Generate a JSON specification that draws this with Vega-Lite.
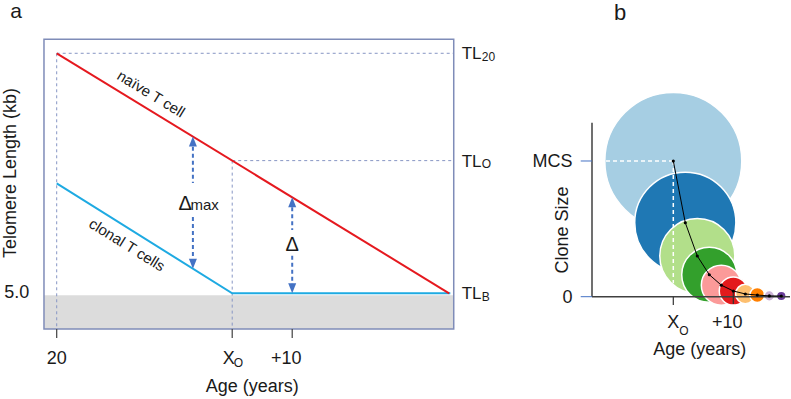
{
  "$schema": "https://vega.github.io/schema/vega-lite/v6.json",
  "width": 791,
  "height": 399,
  "autosize": {"type": "fit", "contains": "padding"},
  "padding": 0,
  "background": "white",
  "config": {"view": {"stroke": null}, "font": "Liberation Sans", "text": {"font": "Liberation Sans", "color": "#1a1a1a"}},
  "datasets": {
    "naive": [{"x": 20, "y": 10}, {"x": 85.4, "y": 5}],
    "clonal": [{"x": 20, "y": 7.29}, {"x": 49.25, "y": 5}, {"x": 85.6, "y": 5}],
    "band": [{"x": 17.88, "x2": 86.17, "y": 4.256, "y2": 4.96}],
    "frame": [{"x": 17.88, "x2": 86.17, "y": 4.256, "y2": 10.29}],
    "vguides": [{"x": 20, "y": 10, "y2": 4.256}, {"x": 49.25, "y": 7.764, "y2": 4.256}],
    "hguides": [{"x": 20, "x2": 86.17, "y": 10}, {"x": 49.25, "x2": 86.17, "y": 7.764}],
    "ageTicks": [{"x": 20, "y": 4.256, "y2": 4.069}, {"x": 49.25, "y": 4.256, "y2": 4.069}, {"x": 59.25, "y": 4.256, "y2": 4.069}],
    "shafts": [{"x": 42.7, "y": 8.2, "y2": 7.3}, {"x": 42.7, "y": 6.59, "y2": 5.58}, {"x": 59.25, "y": 6.94, "y2": 6.32}, {"x": 59.25, "y": 5.78, "y2": 5.06}],
    "headsUp": [{"x": 42.7, "y": 8.264}, {"x": 59.25, "y": 7.0}],
    "headsDown": [{"x": 42.7, "y": 5.513}, {"x": 59.25, "y": 5.0}],
    "aLabels": [{"x": 20, "y": 3.631, "label": "20"}, {"x": 13.33, "y": 5.0, "label": "5.0"}, {"x": 52.58, "y": 3.052, "label": "Age (years)"}],
    "aPlus": [{"x": 59.25, "y": 3.631, "label": "+10"}],
    "aX": [{"x": 49.25, "y": 3.631, "label": "X"}],
    "aXsub": [{"x": 49.25, "y": 3.631, "label": "O"}],
    "aTitle": [{"x": 12.45, "y": 7.506, "label": "Telomere Length (kb)"}],
    "aPanel": [{"x": 13.22, "y": 10.87, "label": "a"}],
    "deltas": [{"x": 41.42, "y": 6.854, "label": "Δ"}, {"x": 59.25, "y": 6.002, "label": "Δ"}],
    "deltaSub": [{"x": 42.3, "y": 6.854, "label": "max"}],
    "naiveLabel": [{"x": 35.72, "y": 9.152, "label": "naïve T cell"}],
    "clonalLabel": [{"x": 31.72, "y": 6.006, "label": "clonal T cells"}],
    "tl": [{"x": 87.5, "y": 10, "label": "TL", "sub": "20"}, {"x": 87.5, "y": 7.764, "label": "TL", "sub": "O"}, {"x": 87.5, "y": 5, "label": "TL", "sub": "B"}],
    "clones": [
      {"x": 0, "y": 1, "clone": 1},
      {"x": 2, "y": 0.545, "clone": 2},
      {"x": 4, "y": 0.3, "clone": 3},
      {"x": 6, "y": 0.162, "clone": 4},
      {"x": 8, "y": 0.085, "clone": 5},
      {"x": 10, "y": 0.042, "clone": 6},
      {"x": 12, "y": 0.02, "clone": 7},
      {"x": 14, "y": 0.012, "clone": 8},
      {"x": 16, "y": 0.006, "clone": 9},
      {"x": 18, "y": 0.005, "clone": 10}
    ],
    "bDashH": [{"x": -13.55, "x2": 0, "y": 1}],
    "bDashV": [{"x": 0, "y": 1, "y2": 0.1}],
    "bAxisY": [{"x": -13.55, "y": 0, "y2": 1.282}],
    "bAxisX": [{"x": -13.55, "x2": 19.45, "y": 0}],
    "bTicksY": [{"x": -15.43, "x2": -13.55, "y": 0}, {"x": -15.43, "x2": -13.55, "y": 1}],
    "bTicksX": [{"x": 0, "y": 0, "y2": -0.061}, {"x": 10, "y": 0.037, "y2": -0.054}],
    "bYLabels": [{"x": -16.8, "y": 1, "label": "MCS"}, {"x": -16.8, "y": 0, "label": "0"}],
    "bTitleY": [{"x": -18.38, "y": 0.492, "label": "Clone Size"}],
    "bX": [{"x": 0, "y": -0.184, "label": "X"}],
    "bXsub": [{"x": 0, "y": -0.184, "label": "O"}],
    "bPlus": [{"x": 10, "y": -0.184, "label": "+10"}],
    "bTitleX": [{"x": 4.42, "y": -0.395, "label": "Age (years)"}],
    "bPanel": [{"x": -8.88, "y": 2.0906, "label": "b"}]
  },
  "layer": [
    {
      "encoding": {
        "x": {"field": "x", "type": "quantitative", "scale": {"domain": [10.55, 142.38], "nice": false, "zero": false}, "axis": null},
        "y": {"field": "y", "type": "quantitative", "scale": {"domain": [2.798, 11.11], "nice": false, "zero": false}, "axis": null}
      },
      "layer": [
        {"data": {"name": "band"}, "mark": {"type": "rect", "color": "#dcdcdc"}, "encoding": {"x2": {"field": "x2"}, "y2": {"field": "y2"}}},
        {"data": {"name": "vguides"}, "mark": {"type": "rule", "color": "#8796c4", "strokeWidth": 1, "strokeDash": [3, 3]}, "encoding": {"y2": {"field": "y2"}}},
        {"data": {"name": "hguides"}, "mark": {"type": "rule", "color": "#8796c4", "strokeWidth": 1, "strokeDash": [3, 3]}, "encoding": {"x2": {"field": "x2"}}},
        {"data": {"name": "frame"}, "mark": {"type": "rect", "filled": false, "stroke": "#7f8cb8", "strokeWidth": 1.5}, "encoding": {"x2": {"field": "x2"}, "y2": {"field": "y2"}}},
        {"data": {"name": "ageTicks"}, "mark": {"type": "rule", "color": "#404040", "strokeWidth": 1.2}, "encoding": {"y2": {"field": "y2"}}},
        {"data": {"name": "clonal"}, "mark": {"type": "line", "color": "#1eaae2", "strokeWidth": 2}, "encoding": {}},
        {"data": {"name": "naive"}, "mark": {"type": "line", "color": "#e5191f", "strokeWidth": 2}, "encoding": {}},
        {"data": {"name": "shafts"}, "mark": {"type": "rule", "color": "#4472c4", "strokeWidth": 2, "strokeDash": [4, 3]}, "encoding": {"y2": {"field": "y2"}}},
        {"data": {"name": "headsUp"}, "mark": {"type": "point", "shape": "M0,0L-0.8,2L0.8,2Z", "size": 100, "filled": true, "color": "#4472c4", "opacity": 1}},
        {"data": {"name": "headsDown"}, "mark": {"type": "point", "shape": "M0,0L-0.8,-2L0.8,-2Z", "size": 100, "filled": true, "color": "#4472c4", "opacity": 1}},
        {"data": {"name": "aLabels"}, "mark": {"type": "text", "fontSize": 18, "align": "center", "baseline": "middle"}, "encoding": {"text": {"field": "label"}}},
        {"data": {"name": "aPlus"}, "mark": {"type": "text", "fontSize": 18, "align": "center", "baseline": "middle", "dx": -6}, "encoding": {"text": {"field": "label"}}},
        {"data": {"name": "aX"}, "mark": {"type": "text", "fontSize": 18, "align": "center", "baseline": "middle", "dx": -3.5}, "encoding": {"text": {"field": "label"}}},
        {"data": {"name": "aXsub"}, "mark": {"type": "text", "fontSize": 12, "align": "left", "baseline": "middle", "dx": 1.6, "dy": 4}, "encoding": {"text": {"field": "label"}}},
        {"data": {"name": "aTitle"}, "mark": {"type": "text", "fontSize": 18, "align": "center", "baseline": "middle", "angle": 270}, "encoding": {"text": {"field": "label"}}},
        {"data": {"name": "aPanel"}, "mark": {"type": "text", "fontSize": 21, "align": "center", "baseline": "middle"}, "encoding": {"text": {"field": "label"}}},
        {"data": {"name": "deltas"}, "mark": {"type": "text", "fontSize": 20, "align": "center", "baseline": "middle"}, "encoding": {"text": {"field": "label"}}},
        {"data": {"name": "deltaSub"}, "mark": {"type": "text", "fontSize": 15, "align": "left", "baseline": "middle", "dy": 1}, "encoding": {"text": {"field": "label"}}},
        {"data": {"name": "naiveLabel"}, "mark": {"type": "text", "fontSize": 15, "align": "center", "baseline": "middle", "angle": 31.4}, "encoding": {"text": {"field": "label"}}},
        {"data": {"name": "clonalLabel"}, "mark": {"type": "text", "fontSize": 15, "align": "center", "baseline": "middle", "angle": 32}, "encoding": {"text": {"field": "label"}}},
        {"data": {"name": "tl"}, "mark": {"type": "text", "fontSize": 17, "align": "left", "baseline": "middle", "dy": 1}, "encoding": {"text": {"field": "label"}}},
        {"data": {"name": "tl"}, "mark": {"type": "text", "fontSize": 12, "align": "left", "baseline": "middle", "dx": 20, "dy": 3.5}, "encoding": {"text": {"field": "sub"}}}
      ]
    },
    {
      "encoding": {
        "x": {"field": "x", "type": "quantitative", "scale": {"domain": [-112.22, 19.617], "nice": false, "zero": false}, "axis": null},
        "y": {"field": "y", "type": "quantitative", "scale": {"domain": [-0.7539, 2.1864], "nice": false, "zero": false}, "axis": null}
      },
      "layer": [
        {"data": {"name": "clones"}, "mark": {"type": "point", "shape": "circle", "filled": true, "opacity": 1, "stroke": "white", "strokeWidth": 1.5},
         "encoding": {
           "size": {"field": "y", "type": "quantitative", "scale": {"type": "linear", "domain": [0, 1], "range": [0, 18769], "zero": true}, "legend": null},
           "color": {"field": "clone", "type": "nominal", "scale": {"domain": [1, 2, 3, 4, 5, 6, 7, 8, 9, 10], "range": ["#a6cee3", "#1f78b4", "#b2df8a", "#33a02c", "#fb9a99", "#e31a1c", "#fdbf6f", "#ff7f00", "#cab2d6", "#6a3d9a"]}, "legend": null}
         }},
        {"data": {"name": "bDashH"}, "mark": {"type": "rule", "color": "white", "strokeWidth": 1.5, "strokeDash": [4, 3]}, "encoding": {"x2": {"field": "x2"}}},
        {"data": {"name": "bDashV"}, "mark": {"type": "rule", "color": "white", "strokeWidth": 1.5, "strokeDash": [4, 3]}, "encoding": {"y2": {"field": "y2"}}},
        {"data": {"name": "bAxisY"}, "mark": {"type": "rule", "color": "#404040", "strokeWidth": 1.5}, "encoding": {"y2": {"field": "y2"}}},
        {"data": {"name": "bAxisX"}, "mark": {"type": "rule", "color": "#404040", "strokeWidth": 1.5}, "encoding": {"x2": {"field": "x2"}}},
        {"data": {"name": "bTicksY"}, "mark": {"type": "rule", "color": "#4472c4", "strokeWidth": 1}, "encoding": {"x2": {"field": "x2"}}},
        {"data": {"name": "bTicksX"}, "mark": {"type": "rule", "color": "#333333", "strokeWidth": 1.2}, "encoding": {"y2": {"field": "y2"}}},
        {"data": {"name": "clones"}, "mark": {"type": "line", "color": "black", "strokeWidth": 1}, "encoding": {}},
        {"data": {"name": "clones"}, "mark": {"type": "point", "shape": "circle", "filled": true, "color": "black", "size": 10, "opacity": 1}},
        {"data": {"name": "bYLabels"}, "mark": {"type": "text", "fontSize": 18, "align": "right", "baseline": "middle", "dy": 1}, "encoding": {"text": {"field": "label"}}},
        {"data": {"name": "bTitleY"}, "mark": {"type": "text", "fontSize": 18, "align": "center", "baseline": "middle", "angle": 270}, "encoding": {"text": {"field": "label"}}},
        {"data": {"name": "bX"}, "mark": {"type": "text", "fontSize": 18, "align": "center", "baseline": "middle", "dy": 1}, "encoding": {"text": {"field": "label"}}},
        {"data": {"name": "bXsub"}, "mark": {"type": "text", "fontSize": 12, "align": "left", "baseline": "middle", "dx": 6, "dy": 9}, "encoding": {"text": {"field": "label"}}},
        {"data": {"name": "bPlus"}, "mark": {"type": "text", "fontSize": 18, "align": "center", "baseline": "middle", "dx": -6, "dy": 1}, "encoding": {"text": {"field": "label"}}},
        {"data": {"name": "bTitleX"}, "mark": {"type": "text", "fontSize": 18, "align": "center", "baseline": "middle"}, "encoding": {"text": {"field": "label"}}},
        {"data": {"name": "bPanel"}, "mark": {"type": "text", "fontSize": 22, "align": "center", "baseline": "middle"}, "encoding": {"text": {"field": "label"}}}
      ]
    }
  ],
  "resolve": {"scale": {"x": "independent", "y": "independent"}}
}
